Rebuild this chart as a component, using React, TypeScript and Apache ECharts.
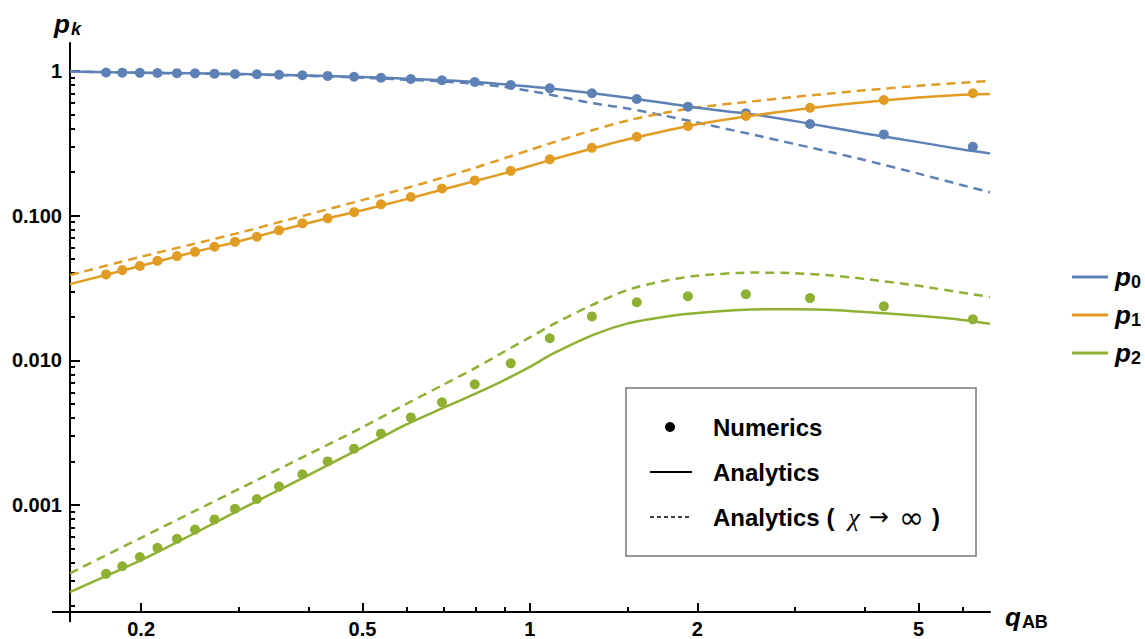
import React, { useEffect, useRef } from 'react';
import * as echarts from 'echarts';

// ---------- data ----------
// numerical points
const numQ = [0.173, 0.185, 0.199, 0.214, 0.232, 0.25, 0.271, 0.295, 0.323, 0.354, 0.39, 0.433, 0.483, 0.54, 0.611, 0.695, 0.796, 0.924, 1.086, 1.293, 1.557, 1.924, 2.446, 3.19, 4.33, 6.26];
const numP0 = [0.975, 0.973, 0.97, 0.968, 0.965, 0.962, 0.958, 0.953, 0.948, 0.941, 0.934, 0.924, 0.912, 0.897, 0.88, 0.862, 0.838, 0.8, 0.758, 0.701, 0.64, 0.566, 0.51, 0.43, 0.364, 0.299];
const numP1 = [0.0392, 0.042, 0.0449, 0.0487, 0.0525, 0.0562, 0.0609, 0.0659, 0.0714, 0.0791, 0.0884, 0.0957, 0.1057, 0.1196, 0.1345, 0.154, 0.175, 0.204, 0.245, 0.294, 0.351, 0.416, 0.489, 0.557, 0.63, 0.701];
const numP2 = [0.000334, 0.000377, 0.000436, 0.000506, 0.000583, 0.000676, 0.000794, 0.000941, 0.0011, 0.00134, 0.00163, 0.002, 0.00245, 0.00311, 0.00403, 0.00512, 0.00682, 0.00953, 0.0142, 0.0201, 0.0252, 0.0277, 0.0286, 0.0269, 0.0236, 0.0192];

// analytic curves
const lineQ = [0.149, 0.2, 0.25, 0.3, 0.4, 0.5, 0.6, 0.7, 0.8, 0.9, 1.0, 1.1, 1.3, 1.5, 1.75, 2, 2.5, 3, 3.5, 4, 5, 6, 6.72];
const anaP0 = [0.99, 0.972, 0.962, 0.952, 0.931, 0.908, 0.883, 0.862, 0.838, 0.808, 0.78, 0.754, 0.7, 0.652, 0.6, 0.556, 0.503, 0.45, 0.405, 0.37, 0.322, 0.286, 0.269];
const infP0 = [0.99, 0.971, 0.96, 0.949, 0.925, 0.898, 0.87, 0.845, 0.815, 0.775, 0.728, 0.68, 0.597, 0.55, 0.49, 0.44, 0.365, 0.312, 0.273, 0.242, 0.195, 0.162, 0.145];
const anaP1 = [0.0336, 0.045, 0.0562, 0.0665, 0.089, 0.109, 0.13, 0.152, 0.174, 0.196, 0.22, 0.245, 0.292, 0.337, 0.385, 0.428, 0.49, 0.538, 0.577, 0.608, 0.655, 0.685, 0.693];
const infP1 = [0.0388, 0.052, 0.064, 0.076, 0.102, 0.128, 0.155, 0.184, 0.215, 0.249, 0.284, 0.32, 0.391, 0.455, 0.514, 0.56, 0.615, 0.662, 0.7, 0.735, 0.79, 0.83, 0.853];
const anaP2 = [0.00025, 0.000415, 0.00064, 0.00092, 0.00161, 0.0025, 0.0036, 0.0047, 0.0059, 0.0073, 0.009, 0.0111, 0.015, 0.018, 0.02, 0.0212, 0.0224, 0.02255, 0.0223, 0.0216, 0.0203, 0.019, 0.0179];
const infP2 = [0.000337, 0.000593, 0.00091, 0.00129, 0.00224, 0.00344, 0.005, 0.0068, 0.0089, 0.0115, 0.0144, 0.0177, 0.0243, 0.0307, 0.0355, 0.0384, 0.0404, 0.04, 0.0385, 0.0365, 0.0327, 0.0293, 0.0274];

// ticks
const xMajor = [0.2, 0.5, 1, 2, 5];
const xMinor = [0.3, 0.4, 0.6, 0.7, 0.8, 0.9, 1.5, 3, 4, 6];
const yMajor = [1, 0.1, 0.01, 0.001];
const yMajorLabels = ['1', '0.100', '0.010', '0.001'];
const yMinorMult = [2, 3, 4, 5, 6, 7, 8, 9];
const yMinorExp = [-4, -3, -2, -1];
const xRange = [0.149, 6.72];
const yRange = [0.000182, 1.56];

const C0 = '#5E81B5';
const C1 = '#E19C24';
const C2 = '#8FB032';
const FONT = '"Liberation Sans", Arial, Helvetica, sans-serif';
const SERIF = '"Liberation Serif", "Times New Roman", serif';
const SYM = '"DejaVu Sans", sans-serif';

const L = Math.log10;
const toXY = (qs: number[], vs: number[]) => qs.map((q, i) => [L(q), L(vs[i])]);

export default function App() {
  const ref = useRef<HTMLDivElement>(null);

  useEffect(() => {
    if (!ref.current) return;
    const chart = echarts.init(ref.current, undefined, { renderer: 'svg' });

    const xMajorV = xMajor.map(L);
    const xMinorV = xMinor.map(L);
    const yMajorV = yMajor.map(L);
    const yMinorV: number[] = [];
    yMinorExp.forEach((e) => yMinorMult.forEach((m) => {
      const v = L(m) + e;
      if (v > L(yRange[0])) yMinorV.push(v);
    }));

    const tickStyle = { color: '#000', width: 2 };
    const labelStyle = { color: '#000', fontSize: 20, lineHeight: 20, fontWeight: 'bold' as const, fontFamily: FONT };

    const line = (name: string, qs: number[], vs: number[], color: string, dashed: boolean) => ({
      type: 'line',
      name,
      data: toXY(qs, vs),
      smooth: 0.25,
      symbol: 'none',
      showSymbol: false,
      silent: true,
      z: dashed ? 2 : 3,
      itemStyle: { color },
      lineStyle: { color, width: 2.5, type: dashed ? [9, 6] : 'solid' },
    });
    const pts = (name: string, vs: number[], color: string) => ({
      type: 'scatter',
      name,
      data: toXY(numQ, vs),
      symbol: 'circle',
      symbolSize: 10,
      silent: true,
      z: 4,
      itemStyle: { color, opacity: 1 },
    });

    const sub = (base: string, s: string, bs: number, ss: number, subItalic: boolean) => ({
      text: `{b|${base}}{s|${s}}`,
      rich: {
        b: { fontSize: bs, fontWeight: 'bold', fontStyle: 'italic', fontFamily: FONT, fill: '#000', color: '#000', lineHeight: 30, verticalAlign: 'middle' },
        s: { fontSize: ss, fontWeight: 'bold', fontStyle: subItalic ? 'italic' : 'normal', fontFamily: FONT, fill: '#000', color: '#000', lineHeight: 18, padding: [11, 0, 0, 1], verticalAlign: 'top' },
      },
    });

    const boxText = { fontSize: 24, fontWeight: 'bold', fontFamily: FONT, fill: '#000', align: 'left', verticalAlign: 'middle', textAlign: 'left', textVerticalAlign: 'middle' };

    const option: any = {
      animation: false,
      backgroundColor: '#fff',
      grid: { left: 70, top: 43, width: 920, height: 569, containLabel: false, outerBoundsMode: 'none' },
      xAxis: [
        {
          type: 'value', min: L(xRange[0]), max: L(xRange[1]), position: 'bottom',
          axisLine: { show: true, onZero: false, lineStyle: tickStyle },
          axisTick: { show: true, inside: true, length: 9, lineStyle: tickStyle, customValues: xMajorV },
          axisLabel: { ...labelStyle, margin: 7, customValues: xMajorV, formatter: (v: number) => String(Number(Math.pow(10, v).toPrecision(3))) },
          splitLine: { show: false },
        },
        {
          type: 'value', min: L(xRange[0]), max: L(xRange[1]), position: 'bottom',
          axisLine: { show: false, onZero: false },
          axisTick: { show: true, inside: true, length: 5, lineStyle: tickStyle, customValues: xMinorV },
          axisLabel: { show: false },
          splitLine: { show: false },
        },
      ],
      yAxis: [
        {
          type: 'value', min: L(yRange[0]), max: L(yRange[1]), position: 'left',
          axisLine: { show: true, onZero: false, lineStyle: tickStyle },
          axisTick: { show: true, inside: true, length: 10, lineStyle: tickStyle, customValues: yMajorV },
          axisLabel: {
            ...labelStyle, margin: 8, customValues: yMajorV,
            formatter: (v: number) => {
              const i = yMajorV.findIndex((t) => Math.abs(t - v) < 1e-6);
              return i >= 0 ? yMajorLabels[i] : '';
            },
          },
          splitLine: { show: false },
        },
        {
          type: 'value', min: L(yRange[0]), max: L(yRange[1]), position: 'left',
          axisLine: { show: false, onZero: false },
          axisTick: { show: true, inside: true, length: 5, lineStyle: tickStyle, customValues: yMinorV },
          axisLabel: { show: false },
          splitLine: { show: false },
        },
      ],
      legend: {
        data: ['p0', 'p1', 'p2'],
        orient: 'vertical',
        left: 1067,
        top: 257,
        itemWidth: 36,
        itemHeight: 3,
        itemGap: 9,
        icon: 'rect',
        selectedMode: false,
        formatter: (n: string) => `{b|p}{s|${n.slice(1)}}`,
        textStyle: {
          rich: {
            b: { fontSize: 26, fontWeight: 'bold', fontStyle: 'italic', fontFamily: FONT, color: '#000', lineHeight: 30, padding: [0, 0, 0, 2], verticalAlign: 'middle' },
            s: { fontSize: 18, fontWeight: 'bold', fontFamily: FONT, color: '#000', lineHeight: 18, padding: [11, 0, 0, 0], verticalAlign: 'top' },
          },
        },
      },
      series: [
        line('p0 (χ→∞)', lineQ, infP0, C0, true),
        line('p1 (χ→∞)', lineQ, infP1, C1, true),
        line('p2 (χ→∞)', lineQ, infP2, C2, true),
        line('p0', lineQ, anaP0, C0, false),
        line('p1', lineQ, anaP1, C1, false),
        line('p2', lineQ, anaP2, C2, false),
        pts('p0 numerics', numP0, C0),
        pts('p1 numerics', numP1, C1),
        pts('p2 numerics', numP2, C2),
      ],
      graphic: [
        // axis extensions past the crossing point
        { type: 'line', shape: { x1: 52, y1: 612, x2: 71, y2: 612 }, style: { stroke: '#000', lineWidth: 2 }, z: 5 },
        { type: 'line', shape: { x1: 70, y1: 611, x2: 70, y2: 622 }, style: { stroke: '#000', lineWidth: 2 }, z: 5 },
        // axis titles
        { type: 'text', x: 54, y: 24, style: { ...sub('p', 'k', 26, 18, true), align: 'left', verticalAlign: 'middle', textAlign: 'left', textVerticalAlign: 'middle' }, z: 5 },
        { type: 'text', x: 1005, y: 617, style: { ...sub('q', 'AB', 26, 18, false), align: 'left', verticalAlign: 'middle', textAlign: 'left', textVerticalAlign: 'middle' }, z: 5 },
        // boxed legend
        { type: 'rect', shape: { x: 626, y: 388, width: 350, height: 168 }, style: { fill: '#fff', stroke: '#777', lineWidth: 1.5 }, z: 10 },
        { type: 'circle', shape: { cx: 670, cy: 427, r: 5 }, style: { fill: '#000' }, z: 11 },
        { type: 'line', shape: { x1: 650, y1: 472, x2: 692, y2: 472 }, style: { stroke: '#000', lineWidth: 2 }, z: 11 },
        { type: 'line', shape: { x1: 650, y1: 517, x2: 692, y2: 517 }, style: { stroke: '#000', lineWidth: 1.5, lineDash: [4, 3] }, z: 11 },
        { type: 'text', x: 713, y: 427, style: { ...boxText, text: 'Numerics' }, z: 11 },
        { type: 'text', x: 713, y: 472, style: { ...boxText, text: 'Analytics' }, z: 11 },
        {
          type: 'text', x: 713, y: 517, z: 11,
          style: {
            text: '{a|Analytics (}{c|χ}{s|→}{i|∞}{a|)}',
            align: 'left', verticalAlign: 'middle', textAlign: 'left', textVerticalAlign: 'middle',
            rich: {
              a: { fontSize: 24, fontWeight: 'bold', fontFamily: FONT, fill: '#000', color: '#000' },
              c: { fontSize: 26, fontStyle: 'italic', fontFamily: SERIF, fill: '#000', color: '#000', padding: [0, 9, 0, 14] },
              s: { fontSize: 24, fontFamily: SYM, fill: '#000', color: '#000', padding: [0, 10, 0, 0] },
              i: { fontSize: 30, fontFamily: SYM, fill: '#000', color: '#000', padding: [0, 8, 0, 0] },
            },
          },
        },
      ],
    };

    chart.setOption(option);
    return () => chart.dispose();
  }, []);

  return <div ref={ref} style={{ position: 'absolute', left: 0, top: 0, width: 1145, height: 639 }} />;
}
